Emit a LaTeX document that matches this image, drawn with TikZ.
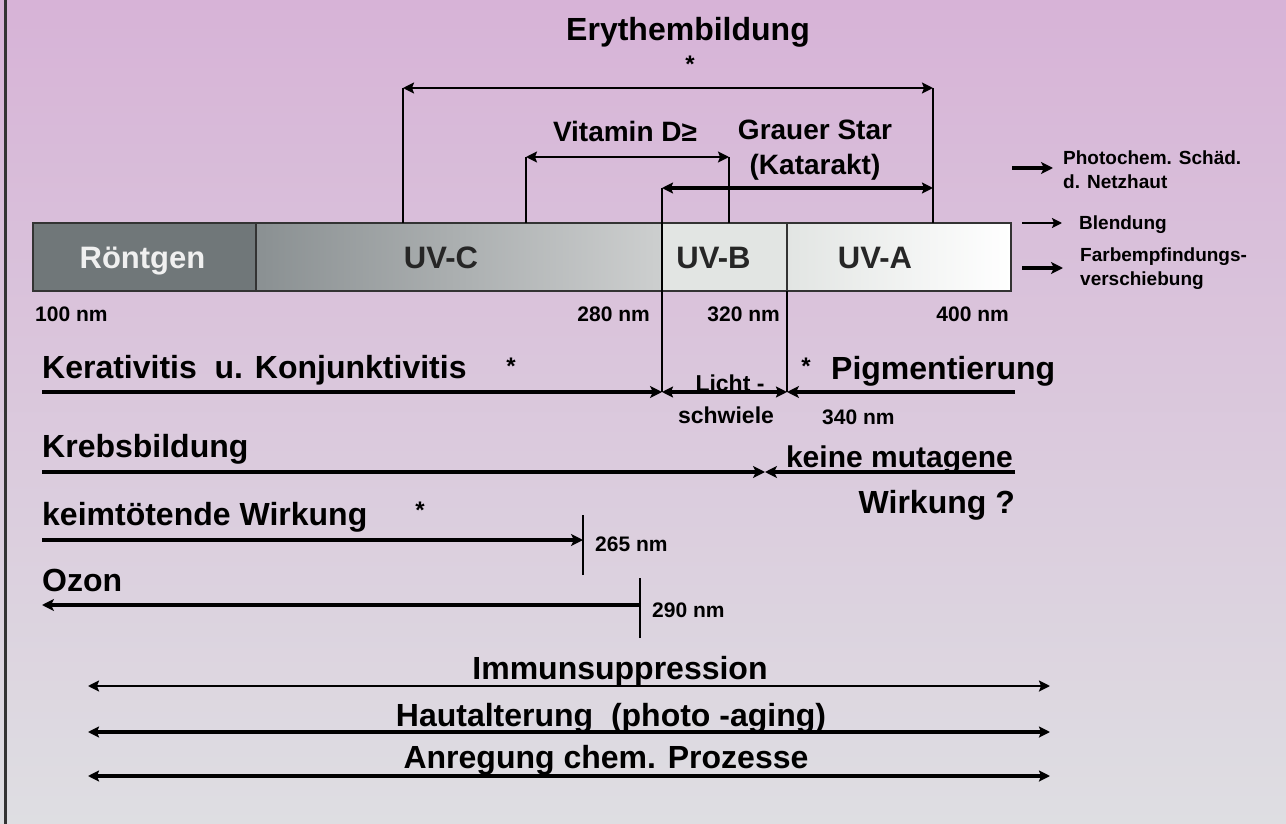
\documentclass[tikz,border=0pt]{standalone}
\usepackage{fontspec}
\setmainfont{Liberation Sans}
\usetikzlibrary{arrows.meta,positioning}
\definecolor{bgtop}{RGB}{215,179,215}
\definecolor{bgmid}{RGB}{225,204,227}
\definecolor{bgbot}{RGB}{222,222,226}
\definecolor{xray}{RGB}{112,119,121}
\definecolor{uvcl}{RGB}{138,144,146}
\definecolor{uvcr}{RGB}{205,207,207}
\definecolor{uvbf}{RGB}{226,229,227}
\tikzset{
  lbl/.style={font=\bfseries\fontsize{32}{34}\selectfont, inner sep=0pt, text height=23pt, text depth=0pt},
  mid/.style={font=\bfseries\fontsize{28}{35}\selectfont, inner sep=0pt, align=center},
  small/.style={font=\bfseries\fontsize{19}{24}\selectfont, inner sep=0pt, align=left},
  nm/.style={font=\bfseries\fontsize{21}{24}\selectfont, inner sep=0pt, text height=15pt, text depth=0pt},
  starmark/.style={font=\bfseries\fontsize{24}{24}\selectfont, inner sep=0pt, anchor=north},
  band/.style={draw=black!80, line width=2pt, outer sep=0pt, minimum height=68pt, inner sep=0pt},
  bandtxt/.style={font=\bfseries\fontsize{31}{34}\selectfont, text=black!85, inner sep=0pt, text height=22pt, text depth=0pt},
  thinline/.style={line width=2pt, -{Stealth[length=10pt,width=10pt,inset=2pt]}},
  heavyline/.style={line width=4pt, -{Stealth[length=12pt,width=12pt,inset=3pt]}},
  both/.style={{Stealth[length=11pt,width=11pt,inset=2pt]}-{Stealth[length=11pt,width=11pt,inset=2pt]}},
  tick/.style={line width=2pt}
}
\begin{document}
\begin{tikzpicture}[x=1pt,y=-1pt]
 \useasboundingbox (0,0) rectangle (1286,824);
 \shade[top color=bgtop, middle color=bgmid, bottom color=bgbot] (0,0) rectangle (1286,824);
 \draw[line width=3pt, black!80] (5,0) -- (5,824);
 % spectrum bar
 \node[band, fill=xray, minimum width=223pt, anchor=north west] (roentgen) at (33,223) {};
 \node[band, left color=uvcl, right color=uvcr, minimum width=406pt, right=0pt of roentgen] (uvc) {};
 \node[band, fill=uvbf, minimum width=125pt, right=0pt of uvc] (uvb) {};
 \node[band, left color=uvbf, right color=white, minimum width=224pt, right=0pt of uvb] (uva) {};
 \node[bandtxt, text=white!94!black] (roentgentxt) at ([xshift=-2pt]roentgen) {Röntgen};
 \node[bandtxt] (uvctxt) at ([xshift=-18pt]uvc) {UV-C};
 \node[bandtxt] (uvbtxt) at ([xshift=-11pt]uvb) {UV-B};
 \node[bandtxt] (uvatxt) at ([xshift=-24pt]uva) {UV-A};
 \node[nm, anchor=west] (nmA) at (35,314) {100 nm};
 \node[nm, anchor=east] (nmB) at (650,314) {280 nm};
 \node[nm, anchor=east] (nmC) at (780,314) {320 nm};
 \node[nm, anchor=east] (nmD) at (1009,314) {400 nm};
 % ranges above the bar
 \node[lbl] (ery) at (688,29) {Erythembildung};
 \node[starmark] (erystar) at (690,56) {*};
 \coordinate (eryL) at (403,88);
 \coordinate (eryR) at (933,88);
 \draw[line width=2.5pt, both] (eryL) -- (eryR);
 \draw[tick] (eryL) -- (eryL |- uvc.north);
 \draw[tick] (eryR) -- (eryR |- uva.north);
 \node[mid] (vitd) at (625,131) {Vitamin D≥};
 \coordinate (vitL) at (526,157);
 \coordinate (vitR) at (729,157);
 \draw[tick, both] (vitL) -- (vitR);
 \draw[tick] (vitL) -- (vitL |- uvc.north);
 \draw[tick] (vitR) -- (vitR |- uvb.north);
 \node[mid] (katarakt) at (815,150) {Grauer Star\\(Katarakt)};
 \coordinate (katL) at (662,188);
 \coordinate (katR) at (933,188);
 \coordinate (lichtL) at (662,392);
 \coordinate (lichtR) at (787,392);
 \draw[line width=4pt, both] (katL) -- (katR);
 \draw[tick] (katL) -- (lichtL);
 \draw[tick] (lichtR) -- (lichtR |- uvb.south);
 % eye effects on the right
 \coordinate (photoA) at (1012,168);
 \coordinate (photoB) at (1053,168);
 \draw[heavyline] (photoA) -- (photoB);
 \node[small, anchor=west] (photo) at (1063,170) {Photochem. Schäd.\\d. Netzhaut};
 \coordinate (blendA) at (1022,223);
 \coordinate (blendB) at (1062,223);
 \draw[thinline] (blendA) -- (blendB);
 \node[small, anchor=west] (blend) at (1079,225) {Blendung};
 \coordinate (farbA) at (1022,268);
 \coordinate (farbB) at (1063,268);
 \draw[heavyline] (farbA) -- (farbB);
 \node[small, anchor=west] (farb) at (1080,269) {Farbempfindungs-\\verschiebung};
 % ranges below the bar
 \node[lbl, anchor=west] (kerat) at (42,367) {Kerativitis\ \ u. Konjunktivitis};
 \node[starmark] (keratstar) at (511,358) {*};
 \coordinate (keratL) at (42,392);
 \draw[heavyline] (keratL) -- (lichtL);
 \draw[line width=4pt, both] (lichtL) -- (lichtR);
 \coordinate (pigR) at (1015,392);
 \draw[heavyline] (pigR) -- (lichtR);
 \node[nm, font=\bfseries\fontsize{23}{24}\selectfont] (licht) at (730,384) {Licht -};
 \node[nm, font=\bfseries\fontsize{23}{24}\selectfont] (schwiele) at (726,416) {schwiele};
 \node[starmark] (pigstar) at (806,358) {*};
 \node[lbl, anchor=west] (pigm) at (831,368) {Pigmentierung};
 \node[nm, anchor=west] (nm340) at (822,417) {340 nm};
 \node[lbl, anchor=west] (krebs) at (42,446) {Krebsbildung};
 \coordinate (krebsL) at (42,472);
 \coordinate (krebsM) at (765,472);
 \coordinate (mutR) at (1015,472);
 \draw[heavyline] (krebsL) -- (krebsM);
 \draw[heavyline] (mutR) -- (krebsM);
 \node[lbl, font=\bfseries\fontsize{30}{34}\selectfont, anchor=east] (mutag) at (1013,456) {keine mutagene};
 \node[lbl, anchor=east] (wirk) at (1015,502) {Wirkung ?};
 \node[lbl, anchor=west] (keim) at (42,514) {keimtötende Wirkung};
 \node[starmark] (keimstar) at (420,502) {*};
 \coordinate (keimL) at (42,540);
 \coordinate (keimR) at (583,540);
 \draw[heavyline] (keimL) -- (keimR);
 \draw[tick] ([yshift=-35pt]keimR) -- ([yshift=25pt]keimR);
 \node[nm, anchor=west] (nm265) at (595,544) {265 nm};
 \node[lbl, anchor=west] (ozon) at (42,580) {Ozon};
 \coordinate (ozonL) at (42,605);
 \coordinate (ozonR) at (640,605);
 \draw[heavyline] (ozonR) -- (ozonL);
 \draw[tick] ([yshift=-33pt]ozonR) -- ([yshift=27pt]ozonR);
 \node[nm, anchor=west] (nm290) at (652,610) {290 nm};
 % whole spectrum
 \node[lbl] (immun) at (620,668) {Immunsuppression};
 \coordinate (immunL) at (88,686);
 \coordinate (immunR) at (1050,686);
 \draw[line width=2.5pt, both] (immunL) -- (immunR);
 \node[lbl] (haut) at (611,715) {Hautalterung\ \ (photo -aging)};
 \coordinate (hautL) at (88,732);
 \coordinate (hautR) at (1050,732);
 \draw[line width=4pt, both] (hautL) -- (hautR);
 \node[lbl] (anreg) at (606,757) {Anregung chem. Prozesse};
 \coordinate (anregL) at (88,776);
 \coordinate (anregR) at (1050,776);
 \draw[line width=4pt, both] (anregL) -- (anregR);
\end{tikzpicture}
\end{document}
